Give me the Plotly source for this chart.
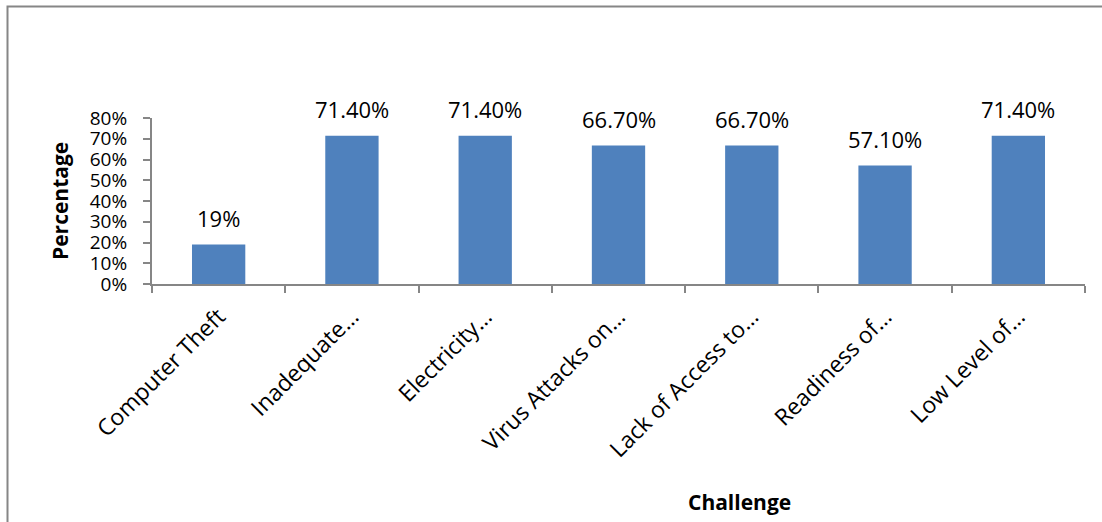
import plotly.graph_objects as go

categories = ["Computer Theft", "Inadequate…", "Electricity…", "Virus Attacks on…",
              "Lack of Access to…", "Readiness of…", "Low Level of…"]
values = [19, 71.4, 71.4, 66.7, 66.7, 57.1, 71.4]
value_labels = ["19%", "71.40%", "71.40%", "66.70%", "66.70%", "57.10%", "71.40%"]
y_ticks = [0, 10, 20, 30, 40, 50, 60, 70, 80]
y_tick_labels = ["0%", "10%", "20%", "30%", "40%", "50%", "60%", "70%", "80%"]

W, H = 1102, 522
L, R, T, B = 152, 1085, 118, 284
FONT = "Open Sans, Liberation Sans, sans-serif"
GRAY = "#868686"

fig = go.Figure()
fig.add_trace(go.Bar(
    x=categories, y=values, marker=dict(color="#4F81BD", line=dict(width=0)),
    width=0.4, hoverinfo="skip",
))

for c, v, t in zip(categories, values, value_labels):
    fig.add_annotation(x=c, y=v, text=t, showarrow=False, yanchor="bottom",
                       yshift=10, font=dict(family=FONT, size=22, color="black"))

def px_x(p):
    return (p - L) / (R - L)

def px_y(p):
    return (B - p) / (B - T)

fig.add_shape(type="rect", xref="paper", yref="paper",
              x0=px_x(7.5), x1=px_x(1115), y0=px_y(535), y1=px_y(6.5),
              line=dict(color=GRAY, width=2), fillcolor="rgba(0,0,0,0)", layer="below")

fig.add_annotation(xref="paper", yref="paper", x=px_x(739), y=px_y(502),
                   xanchor="center", yanchor="middle",
                   text="<b>Challenge</b>", showarrow=False,
                   font=dict(family=FONT, size=21, color="black"))
fig.add_annotation(xref="paper", yref="paper", x=px_x(60), y=px_y(201),
                   xanchor="center", yanchor="middle",
                   text="<b>Percentage</b>", showarrow=False, textangle=-90,
                   font=dict(family=FONT, size=21, color="black"))

fig.update_layout(
    width=W, height=H,
    margin=dict(l=L, r=W - R, t=T, b=H - B, pad=0, autoexpand=False),
    plot_bgcolor="white", paper_bgcolor="white",
    showlegend=False, bargap=0.6,
    font=dict(family=FONT, color="black"),
)
fig.update_xaxes(
    showline=True, linecolor=GRAY, linewidth=2, showgrid=False,
    ticks="outside", tickson="boundaries", ticklen=7, tickcolor=GRAY, tickwidth=2,
    tickangle=-45, tickfont=dict(family=FONT, size=23, color="black"),
    ticklabelstandoff=8,
)
fig.update_yaxes(
    range=[0, 80], showline=True, linecolor=GRAY, linewidth=2, showgrid=False,
    zeroline=False, ticks="outside", ticklen=7, tickcolor=GRAY, tickwidth=2,
    tickvals=y_ticks, ticktext=y_tick_labels,
    tickfont=dict(family=FONT, size=19, color="black"), ticklabelstandoff=12,
)

fig.write_html("out.html", config={"displayModeBar": False},
               post_script="document.body.style.margin='0';")
